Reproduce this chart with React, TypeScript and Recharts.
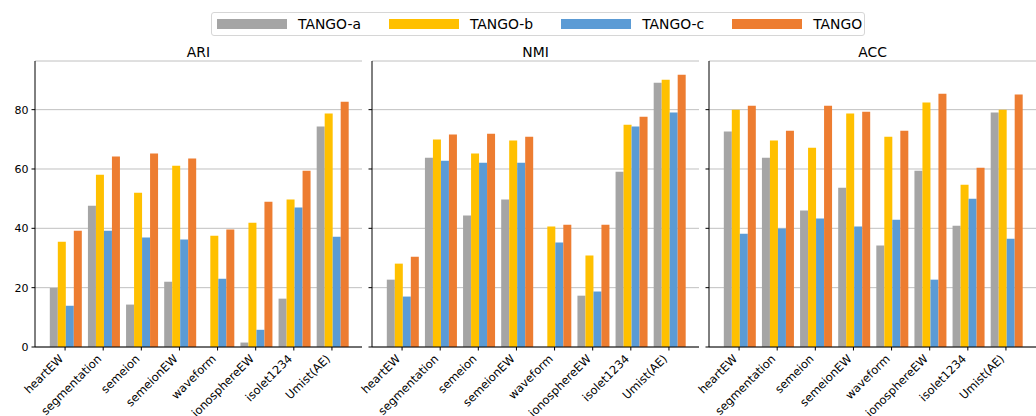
import React from 'react';
import { BarChart, Bar, XAxis, YAxis, CartesianGrid } from 'recharts';

const datasets = ['heartEW', 'segmentation', 'semeion', 'semeionEW', 'waveform', 'ionosphereEW', 'isolet1234', 'Umist(AE)'];
const seriesNames = ['TANGO-a', 'TANGO-b', 'TANGO-c', 'TANGO'];
const seriesColors = ['#A5A5A5', '#FFC000', '#5B9BD5', '#ED7D31'];
const yTicks = [0, 20, 40, 60, 80];

const ariA = [19.9, 47.6, 14.3, 22.0, 0, 1.5, 16.3, 74.3];
const ariB = [35.5, 58.1, 52.0, 61.1, 37.5, 41.9, 49.7, 78.7];
const ariC = [13.9, 39.2, 36.9, 36.2, 23.0, 5.8, 47.0, 37.2];
const ariT = [39.2, 64.2, 65.2, 63.5, 39.6, 49.0, 59.4, 82.7];

const nmiA = [22.7, 63.8, 44.3, 49.7, 0, 17.3, 59.1, 89.1];
const nmiB = [28.1, 69.9, 65.2, 69.6, 40.6, 30.8, 74.9, 90.1];
const nmiC = [17.0, 62.8, 62.1, 62.1, 35.2, 18.7, 74.3, 79.0];
const nmiT = [30.4, 71.6, 71.9, 70.9, 41.2, 41.2, 77.6, 91.8];

const accA = [72.6, 63.8, 46.0, 53.7, 34.2, 59.4, 40.9, 79.0];
const accB = [80.0, 69.6, 67.2, 78.7, 70.9, 82.4, 54.7, 80.0];
const accC = [38.2, 39.9, 43.3, 40.6, 42.9, 22.7, 50.0, 36.5];
const accT = [81.3, 72.9, 81.3, 79.3, 72.9, 85.4, 60.4, 85.1];

const build = (a: number[], b: number[], c: number[], t: number[]) =>
  datasets.map((name, i) => ({ name, a: a[i], b: b[i], c: c[i], t: t[i] }));

const panels = [
  { title: 'ARI', data: build(ariA, ariB, ariC, ariT) },
  { title: 'NMI', data: build(nmiA, nmiB, nmiC, nmiT) },
  { title: 'ACC', data: build(accA, accB, accC, accT) },
];

const keys = ['a', 'b', 'c', 't'];
const FONT = '"DejaVu Sans", sans-serif';

const XTick = (props: any) => {
  const { x, y, payload } = props;
  const px = x - 1;
  const py = y + 7;
  return (
    <text x={px} y={py} transform={`rotate(-45, ${px}, ${py})`} textAnchor="end" fontSize={11.5} fill="#000" fontFamily={FONT}>
      {payload.value}
    </text>
  );
};

function Panel({ title, data, index }: { title: string; data: any[]; index: number }) {
  const plotLeft = 35 + index * 337;
  const yw = index === 0 ? 35 : 40;
  const left = plotLeft - yw;
  const rightMargin = index === 2 ? 0 : 8;
  const width = yw + 327 + rightMargin;
  return (
    <>
      <div style={{ position: 'absolute', left: plotLeft, top: 44, width: 327, textAlign: 'center', fontSize: 13.9, lineHeight: '16px' }}>
        {title}
      </div>
      <div style={{ position: 'absolute', left, top: 0 }}>
        <BarChart width={width} height={416} data={data} margin={{ top: 61, right: rightMargin, bottom: 0, left: 0 }} barCategoryGap="10%" barGap={0}>
          <CartesianGrid horizontal vertical={false} stroke="#b0b0b0" strokeWidth={0.8} />
          <XAxis dataKey="name" interval={0} height={69} padding={{ left: 11, right: 11 }} stroke="#000" tickSize={3.5} tickMargin={2} tick={<XTick />} />
          <YAxis
            width={yw}
            domain={[0, 96.4]}
            ticks={yTicks}
            stroke="#000"
            tickSize={3.5}
            tickMargin={3}
            tick={{ fill: '#000', fontSize: 11, fontFamily: FONT }}
            tickFormatter={index === 0 ? undefined : () => ''}
          />
          {keys.map((k, i) => (
            <Bar key={k} dataKey={k} name={seriesNames[i]} fill={seriesColors[i]} isAnimationActive={false} />
          ))}
        </BarChart>
      </div>
    </>
  );
}

export default function App() {
  return (
    <div style={{ position: 'absolute', left: 0, top: 0, width: 1036, height: 416, background: '#fff', fontFamily: FONT, overflow: 'hidden' }}>
      {panels.map((p, i) => (
        <Panel key={p.title} title={p.title} data={p.data} index={i} />
      ))}
      <div
        style={{
          position: 'absolute', left: 211, top: 12, width: 652, height: 22,
          border: '1px solid #d6d6d6', borderRadius: 3, background: '#fff',
          display: 'flex', alignItems: 'center', fontSize: 13.9, boxSizing: 'content-box',
        }}
      >
        {seriesNames.map((n, i) => (
          <div key={n} style={{ display: 'flex', alignItems: 'center', marginLeft: i === 0 ? 5 : 28 }}>
            <div style={{ width: 70, height: 10, background: seriesColors[i], marginRight: 11 }} />
            <span>{n}</span>
          </div>
        ))}
      </div>
    </div>
  );
}
